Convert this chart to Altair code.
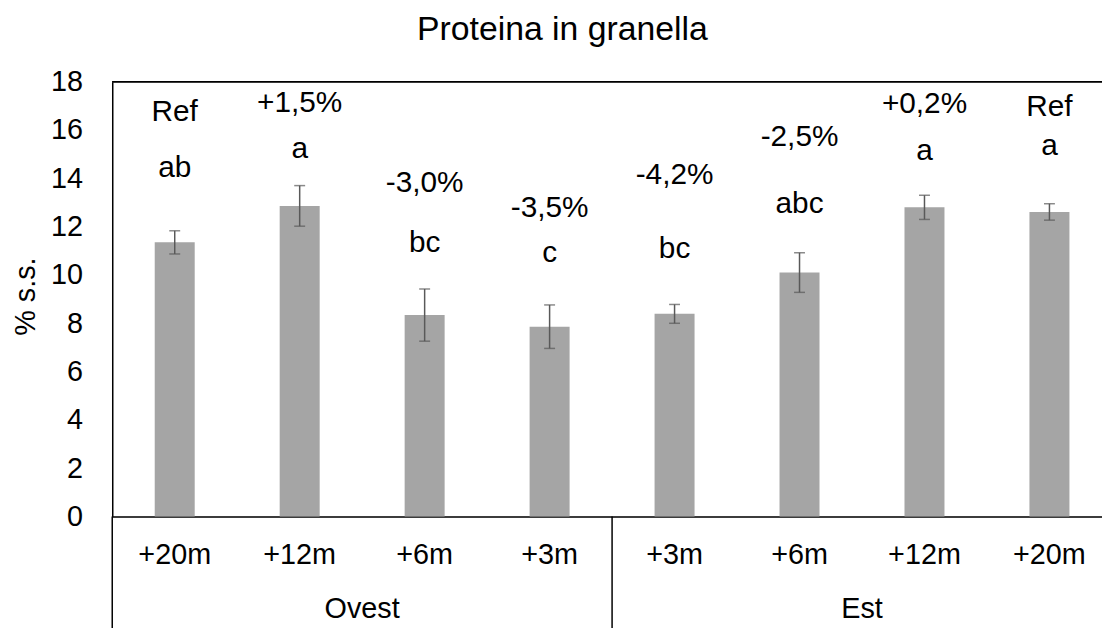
import altair as alt
import pandas as pd

# ---- data ----
groups = ["Ovest", "Ovest", "Ovest", "Ovest", "Est", "Est", "Est", "Est"]
distances = ["+20m", "+12m", "+6m", "+3m", "+3m", "+6m", "+12m", "+20m"]
protein = [11.35, 12.86, 8.34, 7.86, 8.39, 10.10, 12.80, 12.61]
errors = [0.48, 0.84, 1.08, 0.90, 0.39, 0.82, 0.50, 0.34]
change_labels = ["Ref", "+1,5%", "-3,0%", "-3,5%", "-4,2%", "-2,5%", "+0,2%", "Ref"]
change_y = [16.73, 17.12, 13.79, 12.76, 14.14, 15.72, 17.08, 16.97]
letter_labels = ["ab", "a", "bc", "c", "bc", "abc", "a", "a"]
letter_y = [14.41, 15.23, 11.34, 10.91, 11.06, 12.93, 15.14, 15.35]
y_ticks = [0, 2, 4, 6, 8, 10, 12, 14, 16, 18]
group_names = ["Ovest", "Est"]

FONT = "Liberation Sans"
keys = [f"{g} {d}" for g, d in zip(groups, distances)]

df = pd.DataFrame({
    "key": keys,
    "protein": protein,
    "lo": [v - e for v, e in zip(protein, errors)],
    "hi": [v + e for v, e in zip(protein, errors)],
    "change": change_labels,
    "change_y": change_y,
    "letter": letter_labels,
    "letter_y": letter_y,
})

# group boundaries (first category of each group) and group label anchors
starts = [keys[groups.index(g)] for g in group_names]
mids = [keys[groups.index(g) + 1] for g in group_names]
sep_df = pd.DataFrame({"key": starts})
grp_df = pd.DataFrame({"key": mids, "group": group_names})

W, H = 997, 438
x_scale = alt.Scale(domain=keys, range=[0, 1007], paddingInner=0, paddingOuter=0)
y_scale = alt.Scale(domain=[0, 18], nice=False, zero=True)

x_axis = alt.Axis(
    title=None, labelExpr="split(datum.label, ' ')[1]", ticks=False, tickSize=0,
    labelPadding=38, labelBaseline="middle", labelAngle=0, labelFont=FONT,
    labelFontSize=29, labelColor="black", domainColor="black", domainWidth=1.5,
    grid=False,
)
y_axis = alt.Axis(
    title="% s.s.", values=y_ticks, ticks=False, tickSize=0, labelPadding=30,
    labelFont=FONT, labelFontSize=29, labelColor="black", labelBaseline="middle",
    domainColor="black", domainWidth=1.5, grid=False,
    titleFont=FONT, titleFontSize=29, titleFontWeight="normal", titleColor="black",
    titleAngle=270, titleAlign="center", titleBaseline="middle",
    titleX=-87, titleY=216,
)

X = lambda **kw: alt.X("key:N", sort=keys, scale=x_scale, title=None, **kw)

base = alt.Chart(df)

bars = base.mark_bar(color="#A5A5A5", width=alt.RelativeBandSize(0.32)).encode(
    x=X(axis=x_axis),
    y=alt.Y("protein:Q", scale=y_scale, axis=y_axis),
)

err = base.mark_rule(color="#595959", strokeWidth=1.5).encode(
    x=X(), y=alt.Y("lo:Q", scale=y_scale), y2="hi:Q",
)
cap_hi = base.mark_tick(color="#595959", thickness=1.5, size=11, orient="horizontal").encode(
    x=X(), y=alt.Y("hi:Q", scale=y_scale),
)
cap_lo = base.mark_tick(color="#595959", thickness=1.5, size=11, orient="horizontal").encode(
    x=X(), y=alt.Y("lo:Q", scale=y_scale),
)

change_txt = base.mark_text(font=FONT, fontSize=30, color="black", baseline="middle").encode(
    x=X(), y=alt.Y("change_y:Q", scale=y_scale), text="change:N",
)
letter_txt = base.mark_text(font=FONT, fontSize=30, color="black", baseline="middle").encode(
    x=X(), y=alt.Y("letter_y:Q", scale=y_scale), text="letter:N",
)

separators = alt.Chart(sep_df).mark_rule(color="black", strokeWidth=1.5).encode(
    x=X(bandPosition=0),
    y=alt.value(H),
    y2=alt.value(H + 130),
)

group_txt = alt.Chart(grp_df).mark_text(font=FONT, fontSize=29, color="black", baseline="middle").encode(
    x=X(bandPosition=1),
    y=alt.value(H + 93),
    text="group:N",
)

top_border = alt.Chart(sep_df).mark_rule(color="black", strokeWidth=1.5).encode(
    x=alt.value(0), x2=alt.value(1007), y=alt.value(0)
)

chart = alt.layer(
    bars, err, cap_hi, cap_lo, change_txt, letter_txt, separators, group_txt, top_border
).properties(
    width=W,
    height=H,
    title=alt.TitleParams(
        "Proteina in granella", font=FONT, fontSize=34, fontWeight="normal",
        color="black", anchor="middle", frame="group", dx=-45, offset=-6,
        baseline="alphabetic",
    ),
    autosize=alt.AutoSizeParams(type="none"),
    padding={"left": 105, "top": 72, "right": 0, "bottom": 110},
).configure_view(stroke=None).configure(background="white")

chart.save("out.html", embed_options={"renderer": "svg", "actions": False})
